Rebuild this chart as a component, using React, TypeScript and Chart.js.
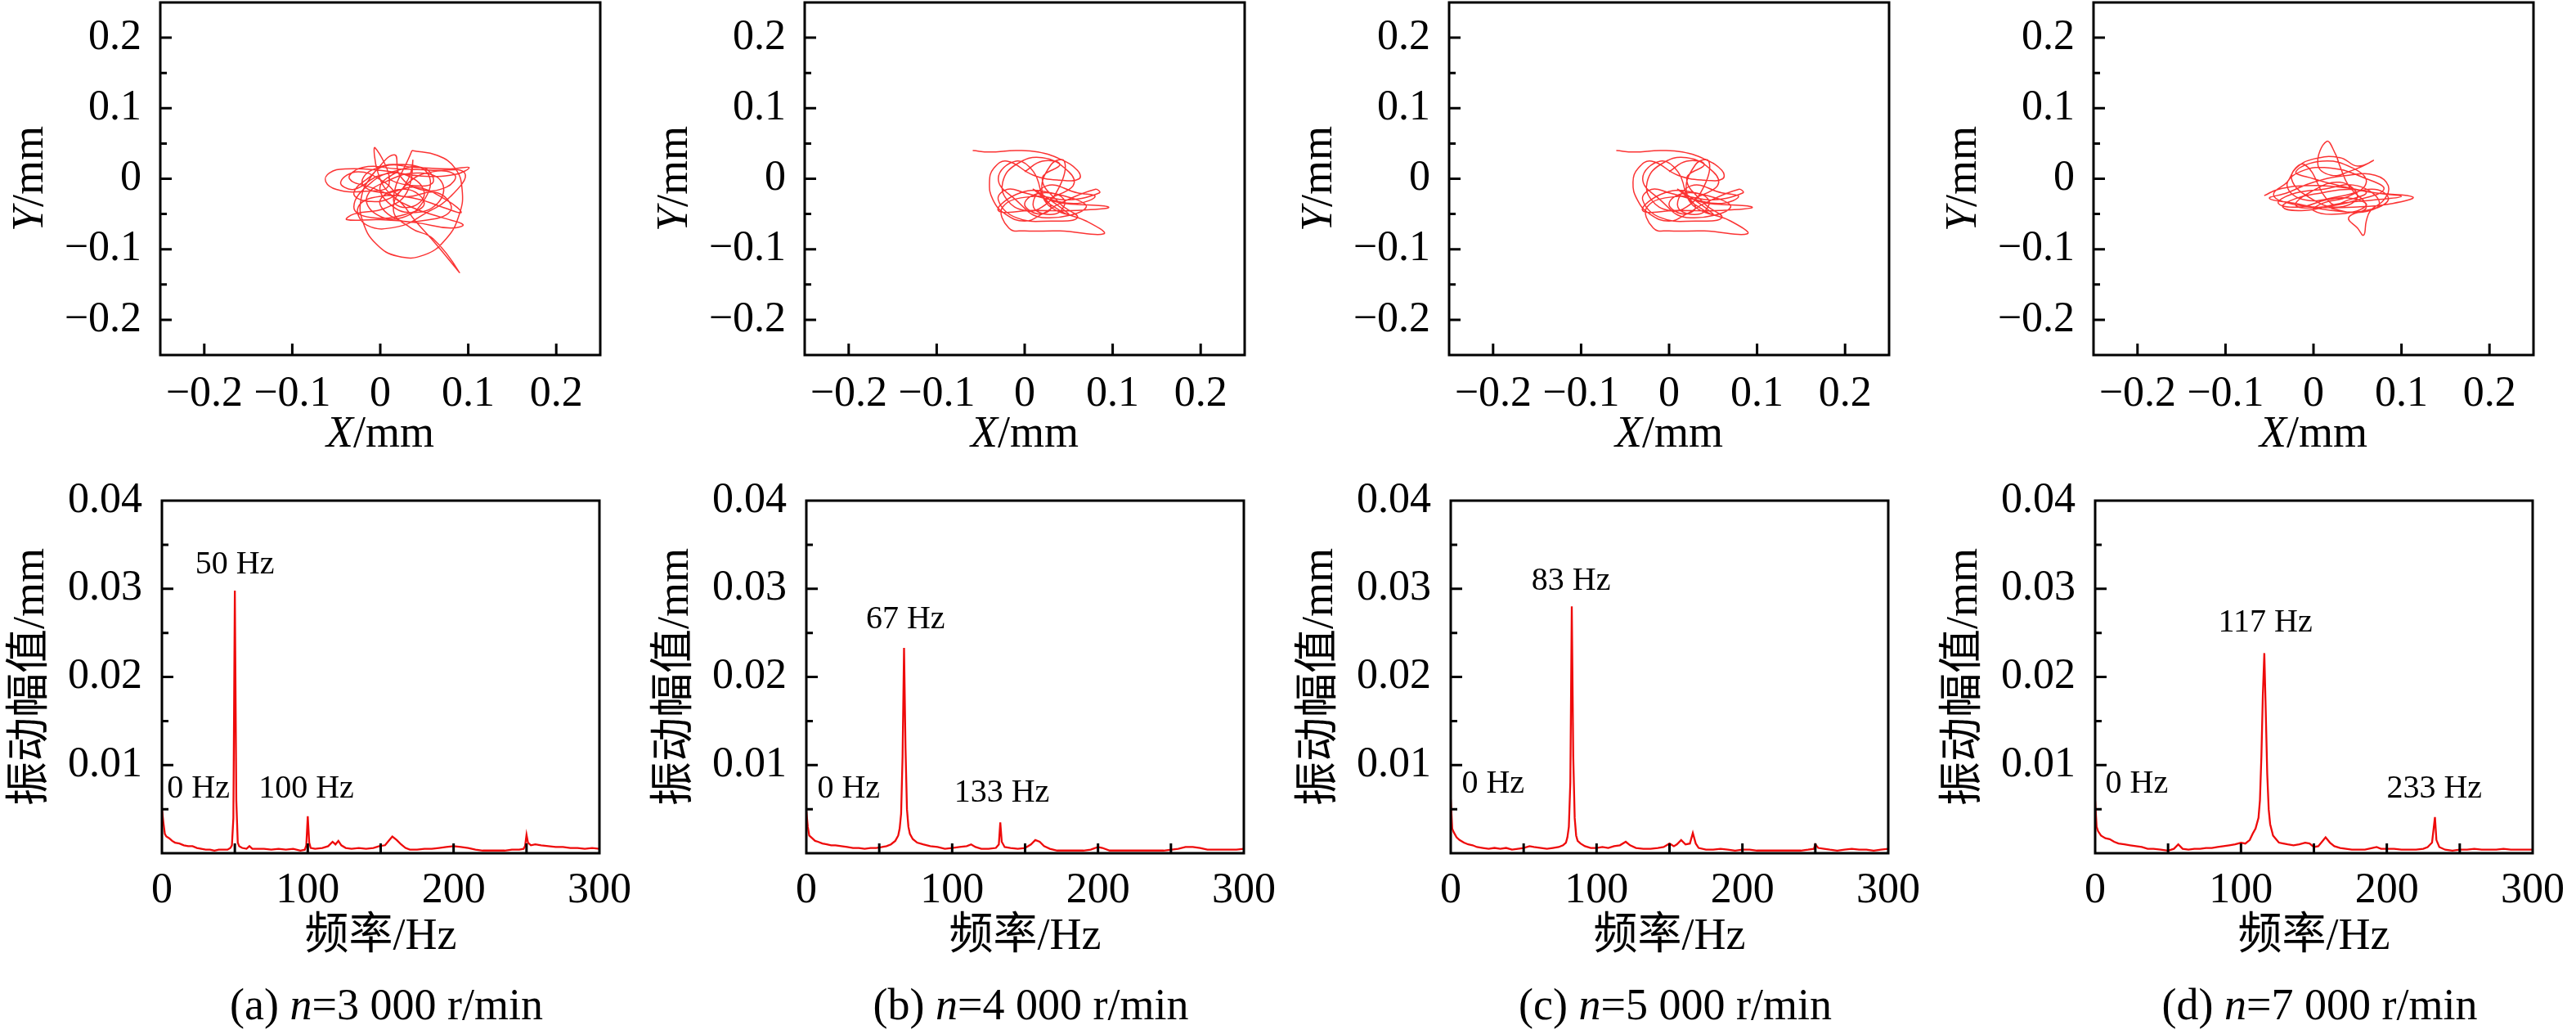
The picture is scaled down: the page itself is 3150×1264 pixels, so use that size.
import React, { useEffect, useRef } from 'react';
import { Chart, registerables } from 'chart.js';
Chart.register(...registerables);

const FONT = '"Liberation Serif", "Times New Roman", "Noto Sans CJK SC", serif';

// ---------- orbit data (X, Y in mm) ----------
const orbitA: number[][] = [
  [0.036, 0.040], [0.065, 0.033], [0.085, 0.015], [0.093, -0.015], [0.090, -0.050], [0.075, -0.085], [0.050, -0.108],
  [0.020, -0.110], [-0.005, -0.092], [-0.020, -0.060], [-0.022, -0.030], [-0.012, 0.000], [0.005, 0.018],
  [0.040, 0.016], [0.080, 0.014], [0.101, 0.016], [0.085, 0.006], [0.045, 0.004], [0.000, 0.012], [-0.040, 0.014],
  [-0.058, 0.008], [-0.062, -0.004], [-0.050, -0.015], [-0.020, -0.018], [0.010, -0.008],
  [-0.006, 0.044], [-0.003, 0.010], [0.010, -0.020], [0.035, -0.040], [0.070, -0.055], [0.094, -0.065], [0.080, -0.070],
  [0.040, -0.062], [0.000, -0.058], [-0.038, -0.058], [-0.030, -0.050], [0.005, -0.042],
  [0.030, -0.020], [0.037, 0.026], [0.032, 0.000], [0.015, -0.025], [-0.015, -0.032], [-0.030, -0.020], [-0.010, 0.005],
  [0.016, 0.034], [0.022, 0.005], [0.045, -0.015], [0.075, -0.012], [0.085, 0.005], [0.060, 0.010],
  [0.030, -0.008], [0.015, -0.045], [0.035, -0.070], [0.060, -0.085], [0.090, -0.133], [0.065, -0.095], [0.040, -0.060],
  [0.020, -0.030], [-0.005, -0.015], [-0.035, 0.000], [-0.020, 0.016], [0.020, 0.014], [0.060, 0.012], [0.096, 0.008],
  [0.080, -0.025], [0.050, -0.050], [0.020, -0.068], [-0.015, -0.066], [-0.025, -0.040], [0.000, -0.025], [0.040, -0.028],
  [0.070, -0.040], [0.092, -0.048], [0.075, -0.030], [0.040, -0.012], [0.005, -0.020], [-0.020, -0.008], [-0.010, 0.012],
  [0.030, 0.020], [0.055, 0.005], [0.050, -0.030], [0.025, -0.055], [-0.005, -0.050], [-0.015, -0.025], [0.010, -0.002],
  [0.045, 0.008], [0.070, -0.005], [0.065, -0.035], [0.035, -0.048], [0.010, -0.035], [0.000, -0.010], [0.020, 0.010],
  [0.010, 0.000], [0.040, -0.010], [0.060, -0.005], [0.050, 0.015], [0.020, 0.012], [-0.010, -0.005], [-0.030, -0.040],
  [-0.010, -0.055], [0.030, -0.050], [0.050, -0.035], [0.030, -0.015], [0.000, -0.030], [0.015, -0.055], [0.045, -0.060],
  [0.080, -0.045], [0.065, -0.020], [0.025, -0.025], [0.005, -0.005], [-0.025, 0.010], [-0.045, -0.005], [-0.030, -0.015],
  [0.000, 0.005], [0.030, 0.005], [0.050, -0.020], [0.035, -0.040], [0.015, -0.030], [0.036, 0.040],
];
const orbitB: number[][] = [
  [-0.059, 0.040], [-0.040, 0.038], [-0.010, 0.040], [0.015, 0.038], [0.040, 0.028], [0.060, 0.012], [0.062, 0.000],
  [0.040, -0.002], [0.010, 0.005], [-0.020, 0.025], [-0.035, 0.015], [-0.040, -0.005], [-0.036, -0.030], [-0.022, -0.050],
  [0.000, -0.060], [0.020, -0.050], [0.040, -0.035], [0.080, -0.015], [0.085, -0.020], [0.050, -0.030], [0.010, -0.025],
  [-0.025, -0.040], [-0.018, -0.070], [0.000, -0.074], [0.040, -0.074], [0.090, -0.078], [0.070, -0.060], [0.040, -0.045],
  [0.020, -0.020], [0.030, 0.020], [0.045, 0.025], [0.040, -0.010], [0.020, -0.040], [0.000, -0.045], [-0.020, -0.030],
  [-0.025, -0.005], [-0.010, 0.020], [0.020, 0.030], [0.050, 0.010], [0.055, -0.010], [0.030, -0.030], [0.095, -0.040],
  [0.060, -0.045], [0.010, -0.045], [-0.030, -0.045], [-0.005, -0.020], [0.030, -0.020], [0.070, -0.040], [0.020, -0.055],
  [-0.010, -0.030], [-0.030, 0.000], [-0.010, 0.025], [0.010, 0.010], [0.025, -0.035], [0.050, -0.050], [0.010, -0.015],
  [0.030, -0.040], [0.015, -0.050], [0.000, -0.035], [0.020, -0.020], [0.045, -0.030], [0.035, -0.050], [0.010, -0.040],
  [0.025, -0.010], [0.060, -0.020], [0.080, -0.025], [0.060, -0.035], [0.030, -0.030], [0.000, -0.020], [-0.020, -0.015],
  [-0.030, -0.030], [-0.010, -0.055], [0.030, -0.060], [0.060, -0.055], [0.040, -0.035], [0.020, 0.000], [0.040, 0.020],
  [0.020, 0.025], [0.000, 0.010],
];
const orbitC: number[][] = [
  [-0.060, 0.040], [-0.040, 0.038], [-0.010, 0.040], [0.015, 0.038], [0.040, 0.028], [0.060, 0.012], [0.061, 0.000],
  [0.040, -0.002], [0.010, 0.005], [-0.020, 0.025], [-0.035, 0.015], [-0.041, -0.005], [-0.036, -0.030], [-0.022, -0.050],
  [0.000, -0.060], [0.020, -0.050], [0.040, -0.035], [0.079, -0.015], [0.084, -0.020], [0.050, -0.030], [0.010, -0.025],
  [-0.025, -0.040], [-0.018, -0.070], [0.000, -0.074], [0.040, -0.074], [0.089, -0.078], [0.070, -0.060], [0.040, -0.045],
  [0.020, -0.020], [0.030, 0.020], [0.045, 0.025], [0.040, -0.010], [0.020, -0.040], [0.000, -0.045], [-0.020, -0.030],
  [-0.025, -0.005], [-0.010, 0.020], [0.020, 0.030], [0.050, 0.010], [0.055, -0.010], [0.030, -0.030], [0.094, -0.040],
  [0.060, -0.045], [0.010, -0.045], [-0.030, -0.045], [-0.005, -0.020], [0.030, -0.020], [0.070, -0.040], [0.020, -0.055],
  [-0.010, -0.030], [-0.030, 0.000], [-0.010, 0.025], [0.010, 0.010], [0.025, -0.035], [0.050, -0.050], [0.010, -0.015],
  [0.030, -0.040], [0.015, -0.050], [0.000, -0.035], [0.020, -0.020], [0.045, -0.030], [0.035, -0.050], [0.010, -0.040],
  [0.025, -0.010], [0.060, -0.020], [0.079, -0.025], [0.060, -0.035], [0.030, -0.030], [0.000, -0.020], [-0.020, -0.015],
  [-0.030, -0.030], [-0.010, -0.055], [0.030, -0.060], [0.060, -0.055], [0.040, -0.035], [0.020, 0.000], [0.040, 0.020],
  [0.020, 0.025], [0.000, 0.010],
];
const orbitD: number[][] = [
  [-0.056, -0.024], [-0.040, -0.015], [-0.010, -0.010], [0.030, -0.012], [0.070, -0.020], [0.113, -0.026], [0.090, -0.035],
  [0.050, -0.040], [0.000, -0.040], [-0.040, -0.030], [-0.045, -0.020], [-0.030, -0.005], [-0.020, 0.015], [0.000, 0.028],
  [0.030, 0.030], [0.050, 0.018], [0.068, 0.026], [0.040, 0.010], [0.020, 0.005], [0.005, 0.020], [0.015, 0.053],
  [0.025, 0.035], [0.030, 0.018], [0.040, -0.010], [0.060, -0.040], [0.040, -0.055], [0.050, -0.070], [0.057, -0.080],
  [0.060, -0.060], [0.065, -0.045], [0.080, -0.030], [0.085, -0.010], [0.070, 0.005], [0.040, 0.005], [0.000, -0.005],
  [-0.030, -0.020], [-0.050, -0.028], [-0.020, -0.035], [0.020, -0.045], [0.060, -0.045], [0.085, -0.030], [0.070, -0.015],
  [0.030, -0.025], [-0.010, -0.030], [-0.030, -0.010], [-0.015, 0.010], [0.020, 0.015], [0.060, 0.000], [0.080, -0.015],
  [0.050, -0.030], [0.010, -0.040], [-0.020, -0.038], [-0.005, -0.020], [0.030, -0.005], [0.050, -0.025], [0.030, -0.040],
  [0.000, -0.030], [-0.025, 0.000], [-0.010, 0.020], [0.020, -0.035], [0.040, -0.030], [0.060, -0.020], [0.040, -0.015],
  [0.010, -0.020], [-0.020, -0.028], [-0.035, -0.040], [-0.010, -0.045], [0.030, -0.035], [0.070, -0.030], [0.100, -0.025],
  [0.070, -0.020], [0.030, -0.010], [0.000, 0.000], [-0.020, 0.010], [0.010, 0.025], [0.045, 0.015], [0.060, -0.005],
  [0.040, -0.025], [0.010, -0.035], [0.000, -0.045], [0.030, -0.050], [0.060, -0.038], [0.045, -0.028], [0.015, -0.030],
  [-0.015, -0.040], [-0.040, -0.035], [-0.025, -0.022], [0.010, -0.015], [0.050, -0.010], [0.075, -0.035], [0.050, -0.048],
  [0.020, -0.042],
];

// ---------- spectrum data ----------
const specAFreq = [0, 1, 2, 3, 5, 7, 9, 12, 15, 18, 21, 24, 27, 30, 33, 36, 39, 42, 45, 47, 48, 49, 50, 51, 52, 53, 55, 58, 60, 62, 65, 70, 75, 80, 85, 90, 95, 98, 99, 100, 101, 102, 105, 110, 114, 117, 119, 121, 123, 126, 130, 135, 140, 145, 149, 153, 156, 158, 161, 164, 167, 170, 175, 180, 185, 190, 195, 200, 205, 210, 215, 220, 225, 230, 235, 240, 245, 248, 249, 250, 251, 253, 256, 260, 265, 270, 275, 280, 285, 290, 295, 300];
const specAAmp = [0.0050, 0.0035, 0.0022, 0.0019, 0.0017, 0.0014, 0.0012, 0.0011, 0.0009, 0.0008, 0.0008, 0.0006, 0.0005, 0.0004, 0.0004, 0.0003, 0.0004, 0.0004, 0.0004, 0.0006, 0.0009, 0.0040, 0.0298, 0.0060, 0.0012, 0.0008, 0.0006, 0.0005, 0.0008, 0.0005, 0.0005, 0.0005, 0.0004, 0.0005, 0.0004, 0.0005, 0.0003, 0.0004, 0.0009, 0.0042, 0.0012, 0.0006, 0.0005, 0.0006, 0.0008, 0.0013, 0.0010, 0.0014, 0.0009, 0.0006, 0.0005, 0.0006, 0.0005, 0.0006, 0.0008, 0.0009, 0.0015, 0.0019, 0.0015, 0.0010, 0.0006, 0.0004, 0.0004, 0.0005, 0.0005, 0.0006, 0.0007, 0.0008, 0.0007, 0.0006, 0.0004, 0.0003, 0.0003, 0.0003, 0.0003, 0.0004, 0.0004, 0.0005, 0.0008, 0.0021, 0.0012, 0.0009, 0.0010, 0.0009, 0.0008, 0.0007, 0.0007, 0.0006, 0.0006, 0.0005, 0.0006, 0.0005];

const specBFreq = [0, 1, 2, 4, 6, 8, 11, 14, 17, 20, 24, 28, 32, 36, 40, 44, 48, 52, 55, 58, 61, 63, 64, 65, 66, 67, 68, 69, 70, 71, 73, 76, 80, 85, 90, 95, 100, 105, 110, 113, 116, 120, 125, 130, 132, 133, 134, 136, 140, 145, 150, 154, 157, 160, 163, 167, 172, 180, 190, 195, 200, 203, 208, 215, 225, 235, 245, 255, 260, 265, 270, 275, 280, 285, 290, 295, 300];
const specBAmp = [0.0048, 0.0030, 0.0020, 0.0017, 0.0014, 0.0013, 0.0011, 0.0010, 0.0009, 0.0009, 0.0008, 0.0007, 0.0006, 0.0006, 0.0005, 0.0006, 0.0006, 0.0007, 0.0008, 0.0010, 0.0014, 0.0020, 0.0028, 0.0045, 0.0110, 0.0233, 0.0120, 0.0050, 0.0030, 0.0022, 0.0016, 0.0012, 0.0010, 0.0008, 0.0007, 0.0005, 0.0006, 0.0007, 0.0008, 0.0010, 0.0007, 0.0005, 0.0005, 0.0006, 0.0010, 0.0035, 0.0013, 0.0007, 0.0006, 0.0005, 0.0006, 0.0010, 0.0015, 0.0013, 0.0008, 0.0005, 0.0003, 0.0003, 0.0003, 0.0004, 0.0007, 0.0006, 0.0003, 0.0003, 0.0003, 0.0003, 0.0003, 0.0005, 0.0007, 0.0007, 0.0006, 0.0004, 0.0004, 0.0004, 0.0004, 0.0004, 0.0005];

const specCFreq = [0, 1, 2, 4, 6, 9, 12, 15, 18, 22, 26, 30, 34, 38, 42, 46, 50, 54, 57, 62, 66, 70, 74, 77, 79, 80, 81, 82, 83, 84, 85, 86, 87, 89, 92, 96, 100, 104, 108, 112, 116, 120, 123, 127, 132, 137, 142, 146, 150, 153, 155, 158, 161, 164, 166, 168, 170, 175, 180, 185, 190, 195, 200, 205, 210, 215, 220, 225, 230, 235, 240, 245, 249, 250, 252, 256, 260, 265, 270, 275, 280, 285, 290, 295, 300];
const specCAmp = [0.0061, 0.0028, 0.0024, 0.0018, 0.0015, 0.0012, 0.0010, 0.0009, 0.0007, 0.0006, 0.0005, 0.0006, 0.0005, 0.0006, 0.0004, 0.0005, 0.0006, 0.0008, 0.0007, 0.0006, 0.0005, 0.0006, 0.0007, 0.0009, 0.0012, 0.0018, 0.0030, 0.0080, 0.0280, 0.0110, 0.0040, 0.0020, 0.0014, 0.0011, 0.0008, 0.0006, 0.0006, 0.0007, 0.0006, 0.0008, 0.0009, 0.0013, 0.0009, 0.0006, 0.0005, 0.0005, 0.0006, 0.0007, 0.0011, 0.0008, 0.0010, 0.0015, 0.0010, 0.0011, 0.0023, 0.0011, 0.0006, 0.0004, 0.0004, 0.0005, 0.0004, 0.0003, 0.0004, 0.0004, 0.0003, 0.0003, 0.0003, 0.0003, 0.0003, 0.0003, 0.0003, 0.0004, 0.0005, 0.0010, 0.0006, 0.0005, 0.0004, 0.0003, 0.0004, 0.0005, 0.0004, 0.0004, 0.0003, 0.0004, 0.0005];

const specDFreq = [0, 1, 2, 4, 7, 10, 13, 16, 20, 24, 28, 32, 36, 40, 45, 50, 54, 57, 60, 64, 68, 72, 76, 80, 84, 88, 92, 96, 100, 103, 106, 108, 110, 112, 113, 114, 115, 116, 117, 118, 119, 120, 122, 124, 126, 129, 132, 136, 140, 144, 147, 150, 153, 156, 158, 161, 164, 168, 172, 176, 180, 185, 190, 193, 196, 200, 205, 210, 215, 220, 225, 228, 231, 233, 234, 236, 240, 245, 250, 255, 260, 265, 270, 275, 280, 285, 290, 295, 300];
const specDAmp = [0.0059, 0.0030, 0.0025, 0.0020, 0.0017, 0.0016, 0.0013, 0.0011, 0.0010, 0.0009, 0.0008, 0.0007, 0.0005, 0.0005, 0.0004, 0.0003, 0.0005, 0.0010, 0.0005, 0.0004, 0.0005, 0.0005, 0.0006, 0.0006, 0.0007, 0.0008, 0.0009, 0.0010, 0.0012, 0.0011, 0.0015, 0.0022, 0.0028, 0.0040, 0.0060, 0.0110, 0.0180, 0.0227, 0.0160, 0.0090, 0.0050, 0.0033, 0.0020, 0.0016, 0.0012, 0.0011, 0.0010, 0.0009, 0.0010, 0.0012, 0.0011, 0.0007, 0.0008, 0.0014, 0.0018, 0.0012, 0.0008, 0.0006, 0.0005, 0.0004, 0.0004, 0.0004, 0.0006, 0.0007, 0.0005, 0.0005, 0.0005, 0.0004, 0.0004, 0.0004, 0.0005, 0.0007, 0.0012, 0.0041, 0.0015, 0.0007, 0.0004, 0.0003, 0.0004, 0.0004, 0.0005, 0.0004, 0.0004, 0.0004, 0.0005, 0.0004, 0.0004, 0.0004, 0.0004];

// peak labels: text, frequency, amplitude of label centre
const peakLabelsA: [string, number, number][] = [['0 Hz', 25, 0.0073], ['50 Hz', 50, 0.0327], ['100 Hz', 99, 0.0073]];
const peakLabelsB: [string, number, number][] = [['0 Hz', 29, 0.0073], ['67 Hz', 68, 0.0265], ['133 Hz', 134, 0.0068]];
const peakLabelsC: [string, number, number][] = [['0 Hz', 29, 0.0078], ['83 Hz', 82.5, 0.0309]];
const peakLabelsD: [string, number, number][] = [['0 Hz', 28.5, 0.0078], ['117 Hz', 116.7, 0.0261], ['233 Hz', 232.6, 0.0073]];

// captions
const captionLetters = ['(a) ', '(b) ', '(c) ', '(d) '];
const captionSpeeds = ['=3 000 r/min', '=4 000 r/min', '=5 000 r/min', '=7 000 r/min'];

// axis ticks
const orbitTicks = [-0.2, -0.1, 0, 0.1, 0.2];
const orbitMinorY = [-0.15, -0.05, 0.05, 0.15];
const specYTicks = [0.01, 0.02, 0.03, 0.04];
const specYMinor = [0.005, 0.015, 0.025, 0.035];
const specYMajorMarks = [0.01, 0.02, 0.03];
const specXTicks = [0, 100, 200, 300];
const specXMarks = [50, 100, 150, 200, 250];

type Seg = { t: string; i?: boolean };

function drawRich(ctx: CanvasRenderingContext2D, segs: Seg[], cx: number, cy: number, size: number, rot = 0) {
  ctx.save();
  ctx.translate(cx, cy);
  ctx.rotate(rot);
  ctx.textBaseline = 'middle';
  ctx.textAlign = 'left';
  ctx.fillStyle = '#000';
  const fonts = segs.map((s) => `${s.i ? 'italic ' : ''}${size}px ${FONT}`);
  let total = 0;
  const widths = segs.map((s, k) => {
    ctx.font = fonts[k];
    const w = ctx.measureText(s.t).width;
    total += w;
    return w;
  });
  let x = -total / 2;
  segs.forEach((s, k) => {
    ctx.font = fonts[k];
    ctx.fillText(s.t, x, 0);
    x += widths[k];
  });
  ctx.restore();
}

function fmtOrbit(v: number) {
  if (Math.abs(v) < 1e-9) return '0';
  return (v < 0 ? '\u2212' : '') + Math.abs(v).toFixed(1);
}

const TICK_FONT = 52;
const TITLE_FONT = 54;

function orbitConfig(points: number[][]): any {
  const L = 196, B = 146;
  return {
    type: 'scatter',
    data: {
      datasets: [{
        data: points.map((p) => ({ x: p[0], y: p[1] })),
        showLine: true,
        borderColor: 'rgba(250,0,0,0.8)',
        borderWidth: 1.5,
        pointRadius: 0,
        tension: 0.45,
        fill: false,
      }],
    },
    options: {
      animation: false,
      responsive: false,
      devicePixelRatio: 1,
      layout: { padding: { top: 3, right: 50, left: 0, bottom: 0 } },
      plugins: { legend: { display: false }, tooltip: { enabled: false } },
      scales: {
        x: {
          type: 'linear', min: -0.25, max: 0.25,
          grid: { display: false, drawTicks: false }, border: { display: false },
          ticks: { font: { family: FONT, size: TICK_FONT }, color: '#000', padding: 17, maxRotation: 0, autoSkip: false, callback: (v: number) => fmtOrbit(v) },
          afterBuildTicks: (s: any) => { s.ticks = orbitTicks.map((v) => ({ value: v })); },
          afterFit: (s: any) => { s.height = B; s.paddingLeft = 0; s.paddingRight = 0; },
        },
        y: {
          type: 'linear', min: -0.25, max: 0.25,
          grid: { display: false, drawTicks: false }, border: { display: false },
          ticks: { font: { family: FONT, size: TICK_FONT }, color: '#000', padding: 23, autoSkip: false, callback: (v: number) => fmtOrbit(v) },
          afterBuildTicks: (s: any) => { s.ticks = orbitTicks.map((v) => ({ value: v })); },
          afterFit: (s: any) => { s.width = L; s.paddingTop = 0; s.paddingBottom = 0; },
        },
      },
    },
    plugins: [{
      id: 'frame',
      afterDraw(chart: any) {
        const { ctx, chartArea: a, scales } = chart;
        const sx = scales.x, sy = scales.y;
        ctx.save();
        ctx.strokeStyle = '#000';
        ctx.lineWidth = 3;
        ctx.strokeRect(a.left, a.top, a.right - a.left, a.bottom - a.top);
        ctx.beginPath();
        orbitTicks.forEach((v) => {
          const py = sy.getPixelForValue(v);
          ctx.moveTo(a.left, py); ctx.lineTo(a.left + 14, py);
          const px = sx.getPixelForValue(v);
          ctx.moveTo(px, a.bottom); ctx.lineTo(px, a.bottom - 14);
        });
        orbitMinorY.forEach((v) => {
          const py = sy.getPixelForValue(v);
          ctx.moveTo(a.left, py); ctx.lineTo(a.left + 8, py);
        });
        ctx.stroke();
        ctx.restore();
        const cx = (a.left + a.right) / 2;
        const cy = (a.top + a.bottom) / 2;
        drawRich(ctx, [{ t: 'X', i: true }, { t: '/mm' }], cx, 532, TITLE_FONT);
        drawRich(ctx, [{ t: 'Y', i: true }, { t: '/mm' }], 38, cy, TITLE_FONT, -Math.PI / 2);
      },
    }],
  };
}

function specConfig(freq: number[], amp: number[], labels: [string, number, number][], idx: number): any {
  const L = 196, B = 221;
  return {
    type: 'scatter',
    data: {
      datasets: [{
        data: freq.map((f, k) => ({ x: f, y: amp[k] })),
        showLine: true,
        borderColor: 'rgb(238,10,10)',
        borderWidth: 2.3,
        pointRadius: 0,
        tension: 0,
        fill: false,
      }],
    },
    options: {
      animation: false,
      responsive: false,
      devicePixelRatio: 1,
      layout: { padding: { top: 52, right: 53, left: 0, bottom: 0 } },
      plugins: { legend: { display: false }, tooltip: { enabled: false } },
      scales: {
        x: {
          type: 'linear', min: 0, max: 300,
          grid: { display: false, drawTicks: false }, border: { display: false },
          ticks: { font: { family: FONT, size: TICK_FONT }, color: '#000', padding: 15, maxRotation: 0, autoSkip: false, callback: (v: number) => String(v) },
          afterBuildTicks: (s: any) => { s.ticks = specXTicks.map((v) => ({ value: v })); },
          afterFit: (s: any) => { s.height = B; s.paddingLeft = 0; s.paddingRight = 0; },
        },
        y: {
          type: 'linear', min: 0, max: 0.04,
          grid: { display: false, drawTicks: false }, border: { display: false },
          ticks: { font: { family: FONT, size: TICK_FONT }, color: '#000', padding: 24, autoSkip: false, callback: (v: number) => v.toFixed(2) },
          afterBuildTicks: (s: any) => { s.ticks = specYTicks.map((v) => ({ value: v })); },
          afterFit: (s: any) => { s.width = L; s.paddingTop = 0; s.paddingBottom = 0; },
        },
      },
    },
    plugins: [{
      id: 'frame',
      afterDraw(chart: any) {
        const { ctx, chartArea: a, scales } = chart;
        const sx = scales.x, sy = scales.y;
        ctx.save();
        ctx.strokeStyle = '#000';
        ctx.lineWidth = 3;
        ctx.strokeRect(a.left, a.top, a.right - a.left, a.bottom - a.top);
        ctx.beginPath();
        specYMajorMarks.forEach((v) => {
          const py = sy.getPixelForValue(v);
          ctx.moveTo(a.left, py); ctx.lineTo(a.left + 14, py);
        });
        specYMinor.forEach((v) => {
          const py = sy.getPixelForValue(v);
          ctx.moveTo(a.left, py); ctx.lineTo(a.left + 8, py);
        });
        specXMarks.forEach((v) => {
          const px = sx.getPixelForValue(v);
          ctx.moveTo(px, a.bottom); ctx.lineTo(px, a.bottom - 12);
        });
        ctx.stroke();
        ctx.restore();
        labels.forEach(([t, f, y]) => {
          drawRich(ctx, [{ t }], sx.getPixelForValue(f), sy.getPixelForValue(y), 40);
        });
        const cx = (a.left + a.right) / 2;
        const cy = (a.top + a.bottom) / 2;
        drawRich(ctx, [{ t: '频率/Hz' }], cx, 586, TITLE_FONT);
        drawRich(ctx, [{ t: '振动幅值/mm' }], 37, cy, TITLE_FONT, -Math.PI / 2);
        drawRich(ctx, [{ t: captionLetters[idx] }, { t: 'n', i: true }, { t: captionSpeeds[idx] }], cx + 7, 672, TITLE_FONT);
      },
    }],
  };
}

function ChartBox({ cfg, left, top, width, height }: { cfg: any; left: number; top: number; width: number; height: number }) {
  const ref = useRef<HTMLCanvasElement | null>(null);
  useEffect(() => {
    if (!ref.current) return;
    const chart = new Chart(ref.current, cfg);
    return () => chart.destroy();
  }, []);
  return (
    <div style={{ position: 'absolute', left, top, width, height }}>
      <canvas ref={ref} width={width} height={height} style={{ width, height, display: 'block' }} />
    </div>
  );
}

const orbits = [orbitA, orbitB, orbitC, orbitD];
const specs: [number[], number[], [string, number, number][]][] = [
  [specAFreq, specAAmp, peakLabelsA],
  [specBFreq, specBAmp, peakLabelsB],
  [specCFreq, specCAmp, peakLabelsC],
  [specDFreq, specDAmp, peakLabelsD],
];

export default function App() {
  return (
    <div style={{ position: 'absolute', left: 0, top: 0, width: 3150, height: 1264, background: '#fff', overflow: 'hidden' }}>
      {orbits.map((o, i) => (
        <ChartBox key={'o' + i} cfg={orbitConfig(o)} left={788 * i} top={0} width={784} height={580} />
      ))}
      {specs.map((s, i) => (
        <ChartBox key={'s' + i} cfg={specConfig(s[0], s[1], s[2], i)} left={788 * i + 2} top={560} width={784} height={704} />
      ))}
    </div>
  );
}
